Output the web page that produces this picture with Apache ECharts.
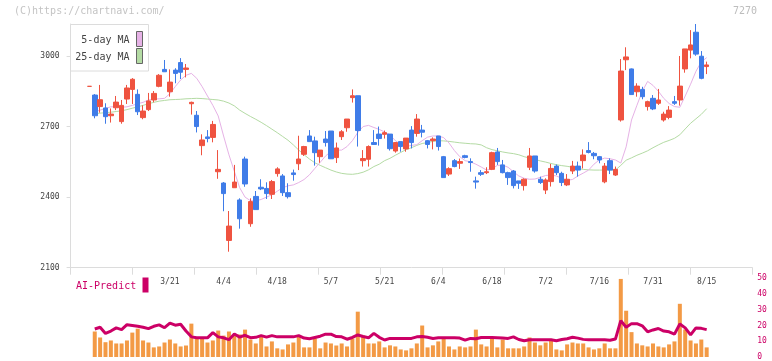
<!DOCTYPE html>
<html><head><meta charset="utf-8">
<script src="https://cdn.jsdelivr.net/npm/echarts@6.0.0/dist/echarts.min.js"></script>
<style>html,body{margin:0;padding:0;background:#fff}#c{width:772px;height:361px}</style>
</head><body><div id="c"></div>
<script>
const dates = ['2/27','2/28','3/3','3/4','3/5','3/6','3/7','3/10','3/11','3/12','3/13','3/14','3/17','3/18','3/19','3/21','3/24','3/25','3/26','3/27','3/28','3/31','4/1','4/2','4/3','4/4','4/7','4/8','4/9','4/10','4/11','4/14','4/15','4/16','4/17','4/18','4/21','4/22','4/23','4/24','4/25','4/28','4/30','5/1','5/2','5/7','5/8','5/9','5/12','5/13','5/14','5/15','5/16','5/19','5/20','5/21','5/22','5/23','5/26','5/27','5/28','5/29','5/30','6/2','6/3','6/4','6/5','6/6','6/9','6/10','6/11','6/12','6/13','6/16','6/17','6/18','6/19','6/20','6/23','6/24','6/25','6/26','6/27','6/30','7/1','7/2','7/3','7/4','7/7','7/8','7/9','7/10','7/11','7/14','7/15','7/16','7/17','7/18','7/22','7/23','7/24','7/25','7/28','7/29','7/30','7/31','8/1','8/4','8/5','8/6','8/7','8/8','8/12','8/13','8/14','8/15'];
const xLabels = ['3/21','4/4','4/18','5/7','5/21','6/4','6/18','7/2','7/16','7/31','8/15'];
const yTicks = [2100, 2400, 2700, 3000];
const aiTicks = [0, 10, 20, 30, 40, 50];

const open = [2871,2834,2785,2779,2746,2780,2721,2817,2858,2837, 2738,2772,2813,2871,2943,2848,2940,2972,2943,2797, 2748,2619,2656,2654,2508,2460,2216,2440,2388,2562, 2287,2403,2442,2437,2412,2500,2490,2419,2503,2542, 2582,2660,2639,2572,2647,2681,2568,2657,2695,2823, 2831,2555,2561,2632,2668,2667,2668,2596,2636,2605, 2685,2671,2685,2640,2640,2660,2572,2498,2555,2544, 2576,2551,2469,2504,2504,2518,2592,2537,2504,2511, 2469,2449,2527,2575,2476,2430,2466,2532,2501,2452, 2511,2532,2555,2598,2586,2572,2465,2555,2494,2728, 2984,2945,2848,2858,2785,2820,2799,2728,2739,2806, 2813,2945,3025,3101,2999,2955];
const close = [2871,2746,2814,2742,2753,2804,2790,2864,2901,2763, 2766,2809,2841,2918,2933,2889,2926,2931,2949,2803, 2700,2643,2649,2709,2518,2415,2277,2464,2308,2456, 2381,2347,2435,2415,2466,2520,2419,2402,2496,2562, 2615,2636,2589,2600,2632,2563,2609,2678,2732,2831, 2683,2564,2615,2624,2649,2674,2606,2632,2615,2651, 2632,2732,2676,2624,2647,2615,2483,2521,2530,2551, 2569,2547,2464,2497,2508,2589,2551,2504,2483,2449, 2459,2476,2575,2511,2462,2473,2522,2504,2462,2476, 2532,2515,2579,2590,2576,2558,2532,2515,2518,2936, 2996,2836,2872,2827,2806,2775,2813,2753,2770,2799, 2872,3030,3047,3008,2905,2962];
const low = [2871,2735,2759,2712,2717,2770,2712,2796,2796,2749, 2731,2766,2803,2867,2933,2827,2884,2902,2909,2751, 2675,2578,2633,2633,2478,2340,2168,2440,2266,2444, 2274,2347,2430,2392,2392,2487,2405,2394,2470,2515, 2575,2636,2534,2546,2615,2563,2545,2643,2678,2802, 2615,2530,2530,2622,2619,2649,2598,2589,2593,2593, 2607,2657,2654,2607,2603,2598,2483,2490,2527,2520, 2565,2508,2436,2490,2498,2515,2537,2501,2452,2437, 2435,2428,2515,2504,2456,2413,2445,2494,2447,2447, 2498,2487,2522,2586,2561,2544,2459,2498,2490,2721, 2940,2836,2827,2816,2768,2770,2792,2721,2731,2792, 2789,2929,2990,3001,2901,2923];
const high = [2871,2838,2877,2799,2777,2830,2813,2877,2906,2858, 2790,2843,2851,2923,2983,2943,2948,2991,2966,2806, 2766,2667,2685,2724,2600,2464,2341,2537,2395,2572, 2395,2426,2476,2463,2473,2527,2498,2459,2517,2661, 2618,2685,2657,2600,2681,2681,2632,2685,2732,2858, 2831,2600,2620,2685,2700,2683,2668,2634,2636,2651, 2702,2753,2707,2643,2654,2660,2575,2527,2562,2564, 2580,2565,2487,2515,2527,2593,2609,2558,2508,2515, 2469,2480,2609,2575,2487,2480,2541,2539,2508,2498, 2554,2551,2603,2634,2592,2575,2545,2565,2530,2987, 3037,2947,2884,2869,2810,2834,2860,2763,2787,2830, 3000,3030,3110,3136,3021,2976];
const ma5 = [null,2763,2770,2777,2784,2784,2782,2784,2790,2797, 2803,2813,2817,2818,2820,2840,2870,2898,2918,2926, 2905,2870,2830,2790,2745,2660,2580,2510,2440,2400, 2385,2384,2390,2400,2410,2425,2440,2448,2452,2462, 2475,2495,2522,2548,2575,2594,2600,2600,2615,2640, 2675,2700,2705,2696,2688,2677,2665,2640,2625,2615, 2620,2623,2640,2655,2660,2660,2653,2630,2598,2572, 2555,2550,2540,2528,2515,2520,2535,2536,2527,2508, 2490,2480,2476,2477,2484,2492,2494,2490,2480,2472, 2475,2490,2502,2515,2540,2558,2566,2563,2558,2545, 2614,2728,2790,2850,2892,2875,2850,2820,2798,2785, 2782,2830,2880,2935,2975,2993];
const ma25 = [null,2755,2757,2759,2761,2764,2767,2772,2778,2784, 2790,2797,2803,2808,2811,2814,2815,2816,2818,2819, 2820,2819,2817,2815,2813,2808,2800,2788,2770,2756, 2743,2731,2718,2704,2689,2674,2658,2642,2622,2600, 2580,2562,2546,2535,2525,2515,2507,2501,2498,2497, 2500,2506,2516,2530,2540,2555,2565,2578,2590,2602, 2610,2620,2628,2632,2637,2640,2639,2637,2634,2631, 2629,2627,2626,2622,2610,2602,2597,2592,2588,2585, 2580,2572,2566,2560,2554,2549,2543,2538,2534,2531, 2527,2522,2518,2516,2515,2515,2515,2515,2515,2535, 2557,2567,2578,2587,2597,2610,2622,2633,2641,2650, 2665,2690,2714,2733,2752,2776];
const volume = [null,16.2,12.4,9.4,10.5,8.6,8.6,10.5,15.5,18.0, 10.5,9.2,6.1,6.7,9.2,11.1,8.6,6.7,7.3,21.2, 12.2,12.2,9.2,10.5,16.8,13.6,16.2,13.6,14.3,17.4, 11.1,8.6,13.0,6.7,9.9,5.5,4.8,8.0,9.2,13.0, 6.1,6.1,11.8,5.5,9.2,8.6,7.3,8.6,6.7,11.8, 28.8,13.6,8.6,8.6,9.9,6.1,7.4,6.7,4.8,4.2, 5.5,8.6,20.0,6.1,7.4,9.9,11.8,6.7,4.8,6.7, 6.1,6.7,17.4,8.0,6.7,11.8,6.1,11.1,5.5,5.5, 5.5,6.7,12.4,9.2,7.4,9.2,10.5,4.8,4.2,8.0, 9.2,8.6,8.6,6.1,4.8,5.5,8.6,5.5,5.5,49.6, 29.4,15.8,8.6,7.4,6.7,8.6,6.7,6.1,8.0,9.9, 33.8,17.5,10.5,8.6,11.1,6.1];
const aiPredict = [null,17.8,18.9,15.0,16.5,18.5,17.4,20.5,20.0,19.5, 18.9,18.0,19.5,20.4,18.6,21.5,20.2,20.8,16.5,12.8, 12.2,12.2,12.2,15.5,12.8,12.2,11.0,14.6,12.6,13.8, 12.3,12.5,13.6,12.6,13.6,12.8,12.8,12.8,12.8,13.6, 12.0,11.6,12.4,13.2,14.5,14.5,13.0,12.8,11.3,12.4, 14.0,13.0,12.2,15.0,12.5,10.8,11.8,11.8,11.8,11.8, 11.8,12.8,13.0,12.5,11.8,12.2,12.2,12.2,12.2,12.0, 10.7,11.8,11.6,12.4,12.4,12.4,12.2,12.0,11.8,12.8, 11.1,10.3,10.9,10.9,10.9,10.9,10.9,10.3,11.1,11.6, 12.5,12.0,11.2,10.9,10.9,10.9,10.9,10.6,11.4,23.1, 18.9,21.2,21.2,19.8,16.0,17.2,18.1,16.5,16.0,14.5, 21.0,18.5,14.0,18.5,18.2,17.4];

const RED = '#ef5340', BLUE = '#3f7ce8', PINK = '#e6b2e6', GREEN = '#b4dba4';
const ORANGE = '#f39a45', CRIMSON = '#cc0066';
const MONO = "'DejaVu Sans Mono', monospace";
const PADL = 3, PADR = 8;
function pad(arr, empty, tag) {
  const l = [], r = [];
  for (let k = 0; k < PADL; k++) l.push(tag ? tag + 'L' + k : empty);
  for (let k = 0; k < PADR; k++) r.push(tag ? tag + 'R' + k : empty);
  return l.concat(arr, r);
}
const cats = pad(dates, null, '_');
const labelSet = new Set(xLabels);
const candles = dates.map((d, i) => {
  const item = { value: [open[i], close[i], low[i], high[i]] };
  if (open[i] === close[i]) {
    const c = (i > 0 && close[i] < close[i - 1]) ? BLUE : RED;
    item.itemStyle = { color: c, borderColor: c, color0: c, borderColor0: c };
  }
  return item;
});
const dash = a => a.map(v => v == null ? '-' : v);

const L = 70.6, W = 681.7;
const chart = echarts.init(document.getElementById('c'), null, { renderer: 'canvas' });
chart.setOption({
  animation: false,
  backgroundColor: '#fff',
  textStyle: { fontFamily: MONO },
  grid: [
    { left: L, width: W, top: 24, height: 243.7 },
    { left: L, width: W, top: 278.3, height: 79.4 }
  ],
  xAxis: [
    { type: 'category', gridIndex: 0, data: cats, boundaryGap: true,
      axisLine: { show: true, lineStyle: { color: '#dcdcdc', width: 1 } },
      axisTick: { show: false },
      axisLabel: { show: true, interval: (i, v) => labelSet.has(v), fontSize: 8, color: '#444', fontFamily: MONO, margin: 10 },
      splitLine: { show: false } },
    { type: 'value', gridIndex: 0, min: 0, max: 11, interval: 1, position: 'bottom',
      axisLine: { show: false }, axisLabel: { show: false }, splitLine: { show: false },
      axisTick: { show: true, length: 7, lineStyle: { color: '#dcdcdc' } } },
    { type: 'category', gridIndex: 1, data: cats, boundaryGap: true, show: false }
  ],
  yAxis: [
    { type: 'value', gridIndex: 0, min: 2100, max: 3136, interval: 300,
      axisLine: { show: true, lineStyle: { color: '#dcdcdc', width: 1 } },
      axisTick: { show: true, length: 4, lineStyle: { color: '#dcdcdc' }, customValues: yTicks },
      axisLabel: { customValues: yTicks, formatter: v => String(v), fontSize: 8, color: '#444', fontFamily: MONO, margin: 11 },
      splitLine: { show: false } },
    { type: 'value', gridIndex: 1, min: 0, max: 50, interval: 10, position: 'right',
      axisLine: { show: false }, axisTick: { show: false }, splitLine: { show: false },
      axisLabel: { customValues: aiTicks, formatter: v => String(v), fontSize: 8, color: CRIMSON, fontFamily: MONO, margin: 5 } }
  ],
  series: [
    { type: 'line', name: '25-day MA', xAxisIndex: 0, yAxisIndex: 0, data: pad(dash(ma25), '-'),
      showSymbol: false, symbol: 'none', lineStyle: { color: GREEN, width: 1 }, z: 2, silent: true },
    { type: 'line', name: '5-day MA', xAxisIndex: 0, yAxisIndex: 0, data: pad(dash(ma5), '-'),
      showSymbol: false, symbol: 'none', lineStyle: { color: PINK, width: 1 }, z: 2, silent: true },
    { type: 'candlestick', xAxisIndex: 0, yAxisIndex: 0, barWidth: 5,
      data: pad(candles, { value: ['-', '-', '-', '-'] }),
      itemStyle: { color: RED, color0: BLUE, borderColor: RED, borderColor0: BLUE, borderWidth: 1 }, z: 3 },
    { type: 'bar', name: 'volume', xAxisIndex: 2, yAxisIndex: 1, data: pad(dash(volume), '-'),
      barWidth: 4, itemStyle: { color: ORANGE }, z: 2 },
    { type: 'line', name: 'AI-Predict', xAxisIndex: 2, yAxisIndex: 1, data: pad(dash(aiPredict), '-'),
      showSymbol: false, symbol: 'none', lineStyle: { color: CRIMSON, width: 3 }, z: 3 }
  ],
  graphic: [
    { type: 'text', left: 14, top: 6, style: { text: '(C)https://chartnavi.com/', fill: '#c4c4c4', font: "10px 'DejaVu Sans Mono'" } },
    { type: 'text', right: 15, top: 6, style: { text: '7270', fill: '#bdbdbd', font: "10px 'DejaVu Sans Mono'" } },
    { type: 'rect', shape: { x: 70.5, y: 24.5, width: 78, height: 46.5 }, style: { fill: '#fff', stroke: '#dcdcdc', lineWidth: 1 }, z: 10 },
    { type: 'text', x: 129.5, y: 40, style: { text: '5-day MA', fill: '#444', font: "10px 'DejaVu Sans Mono'", align: 'right', verticalAlign: 'middle' }, z: 11 },
    { type: 'text', x: 129.5, y: 57, style: { text: '25-day MA', fill: '#444', font: "10px 'DejaVu Sans Mono'", align: 'right', verticalAlign: 'middle' }, z: 11 },
    { type: 'rect', shape: { x: 136.5, y: 31.5, width: 6, height: 15 }, style: { fill: PINK, stroke: '#666', lineWidth: 1 }, z: 11 },
    { type: 'rect', shape: { x: 136.5, y: 48.5, width: 6, height: 15 }, style: { fill: GREEN, stroke: '#666', lineWidth: 1 }, z: 11 },
    { type: 'text', x: 76, y: 286, style: { text: 'AI-Predict', fill: CRIMSON, font: "10px 'DejaVu Sans Mono'", align: 'left', verticalAlign: 'middle' }, z: 11 },
    { type: 'rect', shape: { x: 142.5, y: 277.5, width: 6, height: 15 }, style: { fill: CRIMSON }, z: 11 }
  ]
});
</script></body></html>
